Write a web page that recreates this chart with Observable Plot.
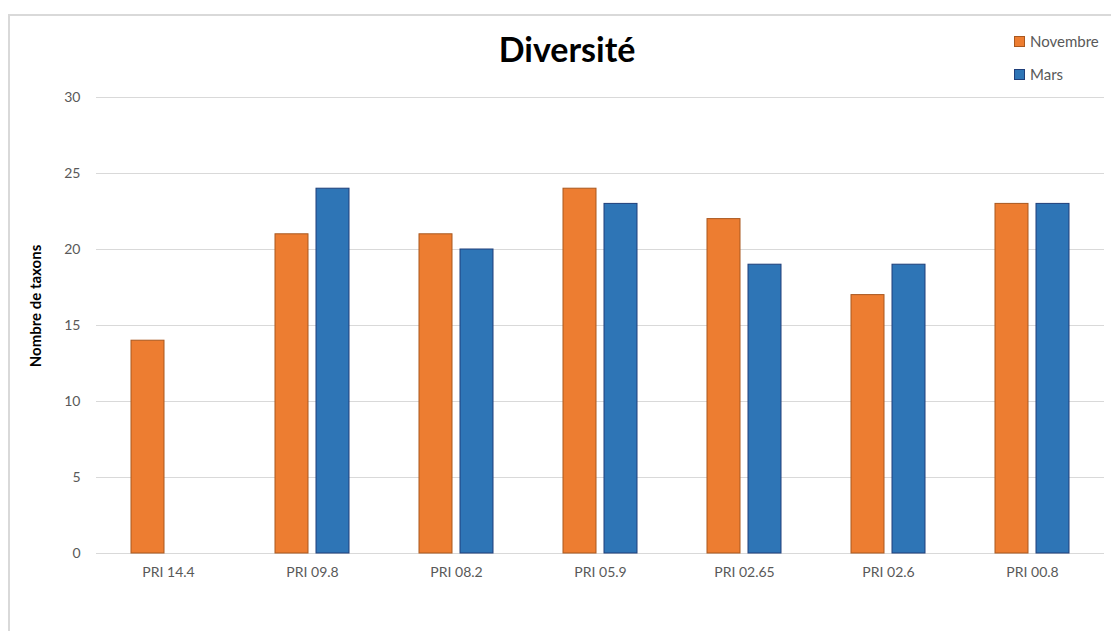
<!DOCTYPE html>
<html>
<head>
<meta charset="utf-8">
<script src="https://cdn.jsdelivr.net/npm/d3@7"></script>
<script src="https://cdn.jsdelivr.net/npm/@observablehq/plot@0.6"></script>
<style>
  body { margin: 0; background: #fff; }
  #wrap { position: relative; width: 1111px; height: 631px; overflow: hidden; font-family: Lato, "Open Sans", sans-serif; }
  #frame { position: absolute; left: 8px; top: 14px; width: 1200px; height: 700px; border-left: 2px solid #d9d9d9; border-top: 2px solid #d9d9d9; }
  #title { position: absolute; left: 0; width: 1134px; top: 28px; text-align: center; font-size: 34px; font-weight: bold; color: #000; }
  #ylab { position: absolute; left: 35px; top: 306px; transform: translate(-50%, -50%) rotate(-90deg); white-space: nowrap; font-size: 15px; font-weight: bold; color: #000; }
  #legend { position: absolute; left: 1014px; top: 31px; font-size: 15px; color: #595959; }
  .li { display: flex; align-items: center; height: 20px; margin-bottom: 13px; }
  .sw { width: 9px; height: 9px; margin-right: 5px; }
  #chart { position: absolute; left: 0; top: 0; }
</style>
</head>
<body>
<div id="wrap">
  <div id="frame"></div>
  <div id="chart"></div>
  <div id="title">Diversité</div>
  <div id="ylab">Nombre de taxons</div>
  <div id="legend"></div>
</div>
<script>
const sites = ["PRI 14.4", "PRI 09.8", "PRI 08.2", "PRI 05.9", "PRI 02.65", "PRI 02.6", "PRI 00.8"];
const series = ["Novembre", "Mars"];
const novembre = [14, 21, 21, 24, 22, 17, 23];
const mars = [null, 24, 20, 23, 19, 19, 23];
const yTicks = [0, 5, 10, 15, 20, 25, 30];
const fills = ["#ED7D31", "#2E75B6"];
const strokes = ["#A9581F", "#1F3F7A"];

const data = [];
sites.forEach((s, i) => {
  if (novembre[i] != null) data.push({site: s, season: "Novembre", value: novembre[i]});
  if (mars[i] != null) data.push({site: s, season: "Mars", value: mars[i]});
});

const chart = Plot.plot({
  width: 1111,
  height: 631,
  marginLeft: 96,
  marginRight: 7,
  marginTop: 97,
  marginBottom: 78,
  style: { fontFamily: "Lato, 'Open Sans', sans-serif", fontSize: "14px", color: "#595959", background: "transparent" },
  fx: { domain: sites, padding: 0, axis: "bottom", tickSize: 0, tickPadding: 14, label: null },
  x: { domain: series, paddingInner: 0.195, paddingOuter: 0.841, axis: null },
  y: { domain: [0, 30], ticks: yTicks, tickSize: 0, tickPadding: 16, label: null },
  color: { domain: series, range: fills },
  marks: [
    Plot.ruleY(yTicks, { stroke: "#d9d9d9", strokeWidth: 1 }),
    Plot.barY(data, {
      fx: "site", x: "season", y: "value", fill: "season",
      stroke: d => strokes[series.indexOf(d.season)], strokeWidth: 1
    })
  ]
});
document.getElementById("chart").appendChild(chart);

const leg = document.getElementById("legend");
series.forEach((s, i) => {
  const row = document.createElement("div");
  row.className = "li";
  row.innerHTML = `<span class="sw" style="background:${fills[i]};border:1px solid ${strokes[i]}"></span><span>${s}</span>`;
  leg.appendChild(row);
});
</script>
</body>
</html>
